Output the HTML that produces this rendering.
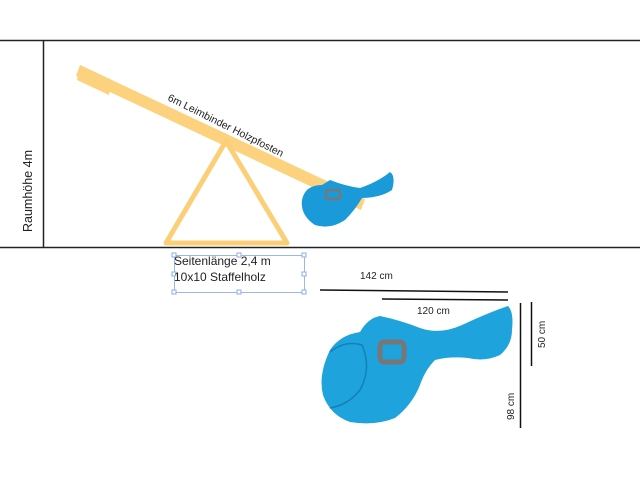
<!DOCTYPE html>
<html><head><style>body{margin:0;background:#fff}svg{display:block}text{font-family:"Liberation Sans",sans-serif}</style></head>
<body>
<svg width="640" height="486" viewBox="0 0 640 486">
<line x1="0" y1="40.5" x2="640" y2="40.5" stroke="#222" stroke-width="1.5"/>
<line x1="0" y1="247.5" x2="640" y2="247.5" stroke="#222" stroke-width="1.5"/>
<line x1="43.5" y1="40" x2="43.5" y2="247" stroke="#222" stroke-width="1.5"/>
<text transform="translate(32,232) rotate(-90)" font-size="12.5" fill="#222">Raumhöhe 4m</text>
<g fill="#fcd27e" stroke="none">
<polygon points="80,65 365,199 361,210 76,76"/>
<polygon points="80,65 112,80 109,95 77,80"/>
</g>
<polygon points="226,141 166,243 287,243" fill="none" stroke="#fbcf77" stroke-width="5" stroke-linejoin="round"/>
<text transform="translate(167,100) rotate(26.5)" font-size="10.5" fill="#222">6m Leimbinder Holzpfosten</text>
<g>
<path d="M302,200 Q305,185 322,185 L330,180 Q345,186 360,188 Q378,182 390,172 Q396,176 392,190 Q380,198 362,198 Q355,210 345,220 Q330,230 315,225 Q300,215 302,200 Z" fill="#1a9ad8"/>
<rect x="326" y="190" width="14" height="9" rx="2" fill="none" stroke="#777" stroke-width="2.5"/>
</g>
<rect x="174.5" y="255.5" width="130" height="37" fill="none" stroke="#9db8e8" stroke-width="1"/>
<g fill="#fff" stroke="#8aaee8" stroke-width="1">
<rect x="172" y="253" width="4" height="4"/><rect x="237" y="253" width="4" height="4"/><rect x="302" y="253" width="4" height="4"/>
<rect x="172" y="272" width="4" height="4"/><rect x="302" y="272" width="4" height="4"/>
<rect x="172" y="290" width="4" height="4"/><rect x="237" y="290" width="4" height="4"/><rect x="302" y="290" width="4" height="4"/>
</g>
<text x="174" y="265" font-size="12" fill="#222">Seitenlänge 2,4 m</text>
<text x="174" y="281" font-size="12" fill="#222">10x10 Staffelholz</text>
<text x="360" y="279" font-size="10" fill="#222">142 cm</text>
<line x1="320" y1="290" x2="508" y2="292" stroke="#111" stroke-width="1.5"/>
<line x1="382" y1="299" x2="508" y2="300" stroke="#111" stroke-width="1.5"/>
<text x="417" y="314" font-size="10" fill="#222">120 cm</text>
<line x1="531.5" y1="302" x2="531.5" y2="366" stroke="#111" stroke-width="1.5"/>
<line x1="520.5" y1="303" x2="520.5" y2="428" stroke="#111" stroke-width="1.5"/>
<text transform="translate(545,348) rotate(-90)" font-size="10" fill="#222">50 cm</text>
<text transform="translate(514,420) rotate(-90)" font-size="10" fill="#222">98 cm</text>
<path d="M330,350 Q340,335 360,332 Q368,318 380,316 Q400,320 420,328 Q440,335 462,325 Q490,312 508,306 Q514,312 512,330 Q512,345 500,355 Q485,362 468,358 Q450,356 435,360 Q425,370 420,385 Q412,405 395,418 Q375,426 350,422 Q330,415 323,395 Q318,375 330,350 Z" fill="#1ea3dd"/>
<path d="M330,352 Q345,340 362,345 Q372,368 360,390 Q348,405 330,408" fill="none" stroke="#1380b8" stroke-width="1.5"/>
<rect x="380" y="342" width="24" height="20" rx="4" fill="none" stroke="#777" stroke-width="5"/>
</svg>
</body></html>
